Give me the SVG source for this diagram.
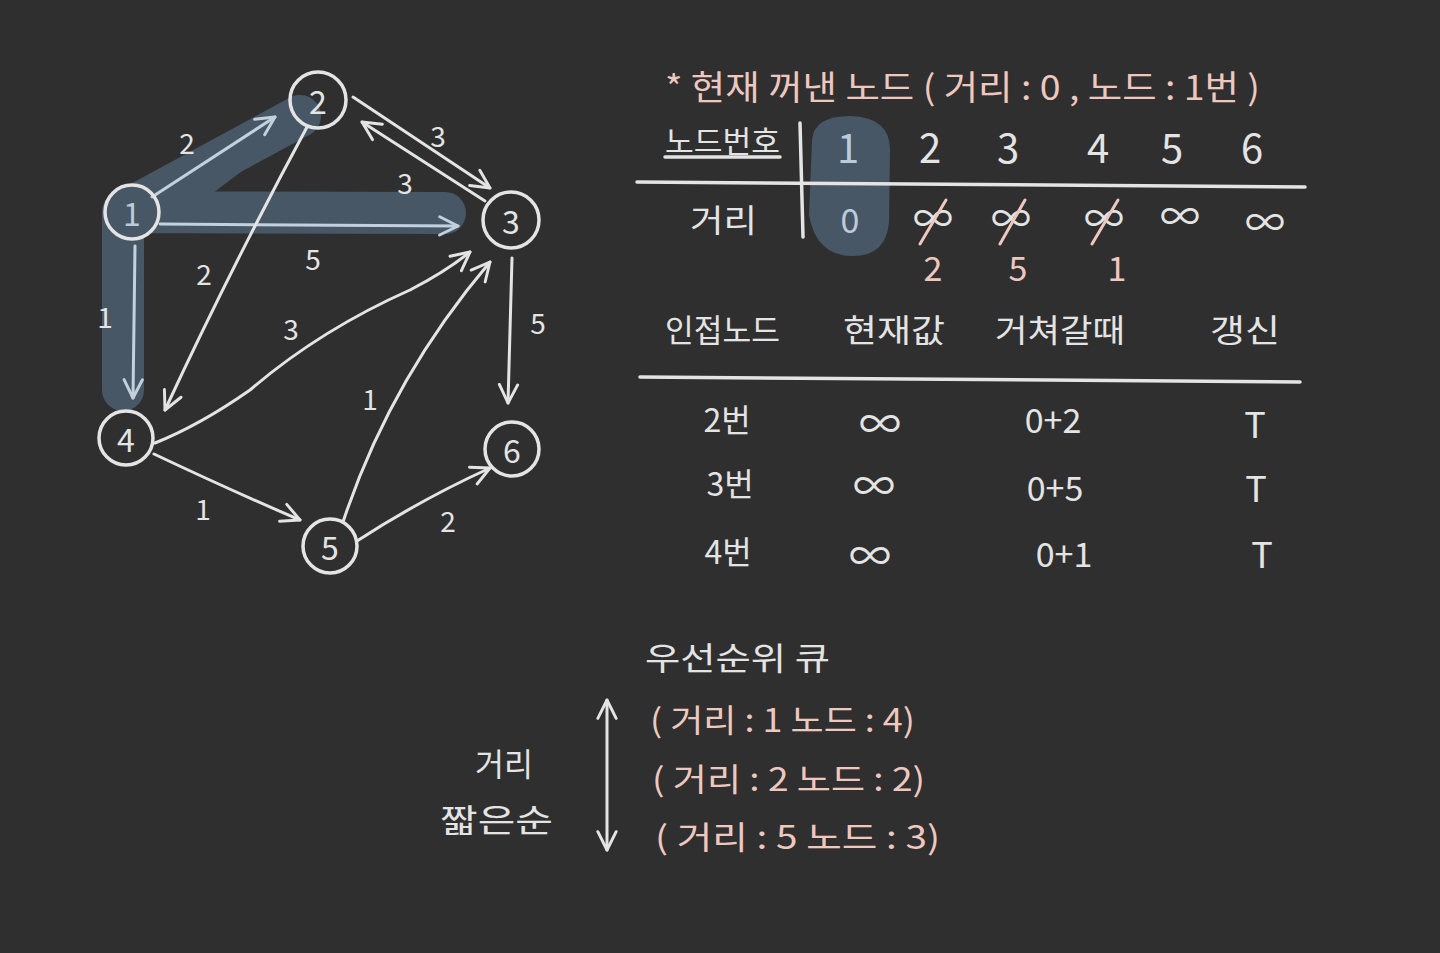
<svg xmlns="http://www.w3.org/2000/svg" width="1440" height="953" viewBox="0 0 1440 953">
<defs>
<style>
.t{font-family:"Noto Sans CJK KR","Noto Sans",sans-serif;fill:#e4e4e4}
.p{fill:#eec8bf}
.b{fill:#bccbdb}
.m{text-anchor:middle;dominant-baseline:central}
.node{fill:none;stroke:#e4e4e4;stroke-width:3.5}
.e{fill:none;stroke:#e4e4e4;stroke-width:3;stroke-linecap:round}
.eb{stroke:#c3d1df}
.ln{fill:none;stroke:#e4e4e4;stroke-width:3.5;stroke-linecap:round}
.sl{stroke:#eec8bf;stroke-width:3;stroke-linecap:round}
</style>
<marker id="a" viewBox="0 0 12 12" refX="11" refY="6" markerWidth="22" markerHeight="22" markerUnits="userSpaceOnUse" orient="auto-start-reverse">
<path d="M1,1 L11,6 L1,11" fill="none" stroke="#e4e4e4" stroke-width="1.6" stroke-linecap="round" stroke-linejoin="round"/>
</marker>
<marker id="ab" viewBox="0 0 12 12" refX="11" refY="6" markerWidth="22" markerHeight="22" markerUnits="userSpaceOnUse" orient="auto">
<path d="M1,1 L11,6 L1,11" fill="none" stroke="#c3d1df" stroke-width="1.6" stroke-linecap="round" stroke-linejoin="round"/>
</marker>
</defs>
<rect width="1440" height="953" fill="#2f2f2f"/>

<g id="highlight">
<path d="M123,390 L123,212 L300,116 M123,212 L445,213" fill="none" stroke="#485766" stroke-width="42" stroke-linecap="round" stroke-linejoin="round"/>
<polygon points="123,212 213,193 270,150 300,116" fill="#485766"/>
<path d="M812,140 Q814,116 850,116 Q890,117 890,150 L889,222 Q886,257 851,256 Q816,255 809,215 Z" fill="#485766"/>
</g>

<g id="connectors">
<line class="e eb" x1="152" y1="197" x2="275" y2="117" marker-end="url(#ab)"/>
<line class="e eb" x1="160" y1="224" x2="458" y2="226" marker-end="url(#ab)"/>
<line class="e eb" x1="135" y1="246" x2="133" y2="398" marker-end="url(#ab)"/>
<line class="e" x1="353" y1="97" x2="490" y2="188" marker-end="url(#a)"/>
<line class="e" x1="485" y1="201" x2="362" y2="122" marker-end="url(#a)"/>
<path class="e" d="M307,127 Q230,270 165,410" marker-end="url(#a)"/>
<path class="e" d="M155,443 Q200,425 250,390 Q320,330 410,290 Q445,272 470,252" marker-end="url(#a)"/>
<path class="e" d="M343,522 Q390,380 490,262" marker-end="url(#a)"/>
<line class="e" x1="512" y1="258" x2="508" y2="403" marker-end="url(#a)"/>
<path class="e" d="M154,454 Q230,490 300,520" marker-end="url(#a)"/>
<path class="e" d="M357,541 Q420,500 490,468" marker-end="url(#a)"/>
</g>

<g id="edge-labels" class="t" font-size="28">
<text class="t m" x="187" y="142">2</text>
<text class="t m" x="438" y="135">3</text>
<text class="t m" x="405" y="182">3</text>
<text class="t m" x="313" y="258">5</text>
<text class="t m" x="204" y="273">2</text>
<text class="t m" x="105" y="316">1</text>
<text class="t m" x="291" y="328">3</text>
<text class="t m" x="370" y="398">1</text>
<text class="t m" x="538" y="322">5</text>
<text class="t m" x="203" y="508">1</text>
<text class="t m" x="448" y="520">2</text>
</g>

<g id="node1"><circle class="node" cx="132" cy="212" r="27" stroke="#c3d1df"/><text class="t b m" x="132" y="212" font-size="32">1</text></g>
<g id="node2"><circle class="node" cx="318" cy="100" r="28"/><text class="t m" x="318" y="100" font-size="32">2</text></g>
<g id="node3"><circle class="node" cx="511" cy="220" r="28"/><text class="t m" x="511" y="220" font-size="32">3</text></g>
<g id="node4"><circle class="node" cx="126" cy="438" r="27"/><text class="t m" x="126" y="438" font-size="32">4</text></g>
<g id="node5"><circle class="node" cx="330" cy="546" r="27"/><text class="t m" x="330" y="546" font-size="32">5</text></g>
<g id="node6"><circle class="node" cx="512" cy="449" r="27"/><text class="t m" x="512" y="449" font-size="32">6</text></g>

<g id="title">
<text class="t p" x="665" y="100" font-size="34" textLength="595" lengthAdjust="spacingAndGlyphs">* 현재 꺼낸 노드 ( 거리 : 0 , 노드 : 1번 )</text>
</g>

<g id="dist-table">
<text class="t" x="665" y="152" font-size="30" textLength="115" lengthAdjust="spacingAndGlyphs">노드번호</text>
<line class="ln" x1="665" y1="157" x2="780" y2="157" stroke-width="2.5"/>
<line class="ln" x1="800" y1="123" x2="803" y2="237"/>
<line class="ln" x1="637" y1="182" x2="1305" y2="187"/>
<text class="t b m" x="848" y="146" font-size="40">1</text>
<text class="t m" x="930" y="146" font-size="40">2</text>
<text class="t m" x="1008" y="146" font-size="40">3</text>
<text class="t m" x="1098" y="146" font-size="40">4</text>
<text class="t m" x="1172" y="146" font-size="40">5</text>
<text class="t m" x="1252" y="146" font-size="40">6</text>
<text class="t" x="690" y="232" font-size="32" textLength="67" lengthAdjust="spacingAndGlyphs">거리</text>
<text class="t b m" x="850" y="218" font-size="34">0</text>
<text class="t m" x="933" y="216" font-size="40">∞</text>
<text class="t m" x="1011" y="216" font-size="40">∞</text>
<text class="t m" x="1104" y="216" font-size="40">∞</text>
<text class="t m" x="1180" y="214" font-size="40">∞</text>
<text class="t m" x="1265" y="220" font-size="40">∞</text>
<line class="sl" x1="946" y1="200" x2="920" y2="244"/>
<line class="sl" x1="1025" y1="200" x2="1000" y2="244"/>
<line class="sl" x1="1118" y1="200" x2="1092" y2="244"/>
<text class="t p m" x="933" y="266" font-size="34">2</text>
<text class="t p m" x="1018" y="266" font-size="34">5</text>
<text class="t p m" x="1117" y="266" font-size="34">1</text>
</g>

<g id="adj-table">
<text class="t" x="665" y="342" font-size="32" textLength="115" lengthAdjust="spacingAndGlyphs">인접노드</text>
<text class="t" x="843" y="342" font-size="32" textLength="102" lengthAdjust="spacingAndGlyphs">현재값</text>
<text class="t" x="995" y="342" font-size="32" textLength="130" lengthAdjust="spacingAndGlyphs">거쳐갈때</text>
<text class="t" x="1210" y="342" font-size="32" textLength="70" lengthAdjust="spacingAndGlyphs">갱신</text>
<line class="ln" x1="640" y1="377" x2="1300" y2="382"/>
<text class="t m" x="727" y="418" font-size="32">2번</text>
<text class="t m" x="880" y="420" font-size="42">∞</text>
<text class="t m" x="1053" y="418" font-size="34">0+2</text>
<text class="t m" x="1255" y="422" font-size="36">T</text>
<text class="t m" x="730" y="482" font-size="32">3번</text>
<text class="t m" x="874" y="482" font-size="42">∞</text>
<text class="t m" x="1055" y="486" font-size="34">0+5</text>
<text class="t m" x="1256" y="486" font-size="36">T</text>
<text class="t m" x="728" y="550" font-size="32">4번</text>
<text class="t m" x="870" y="552" font-size="42">∞</text>
<text class="t m" x="1064" y="552" font-size="34">0+1</text>
<text class="t m" x="1262" y="552" font-size="36">T</text>
</g>

<g id="queue">
<text class="t" x="645" y="670" font-size="32" textLength="185" lengthAdjust="spacingAndGlyphs">우선순위 큐</text>
<line x1="607" y1="700" x2="607" y2="850" stroke="#e4e4e4" stroke-width="3" stroke-linecap="round" marker-start="url(#a)" marker-end="url(#a)"/>
<text class="t p" x="650" y="732" font-size="32" textLength="265" lengthAdjust="spacingAndGlyphs">( 거리 : 1 노드 : 4)</text>
<text class="t p" x="652" y="791" font-size="32" textLength="273" lengthAdjust="spacingAndGlyphs">( 거리 : 2 노드 : 2)</text>
<text class="t p" x="655" y="849" font-size="32" textLength="285" lengthAdjust="spacingAndGlyphs">( 거리 : 5 노드 : 3)</text>
<text class="t" x="475" y="776" font-size="32" textLength="58" lengthAdjust="spacingAndGlyphs">거리</text>
<text class="t" x="440" y="832" font-size="32" textLength="113" lengthAdjust="spacingAndGlyphs">짧은순</text>
</g>
</svg>
